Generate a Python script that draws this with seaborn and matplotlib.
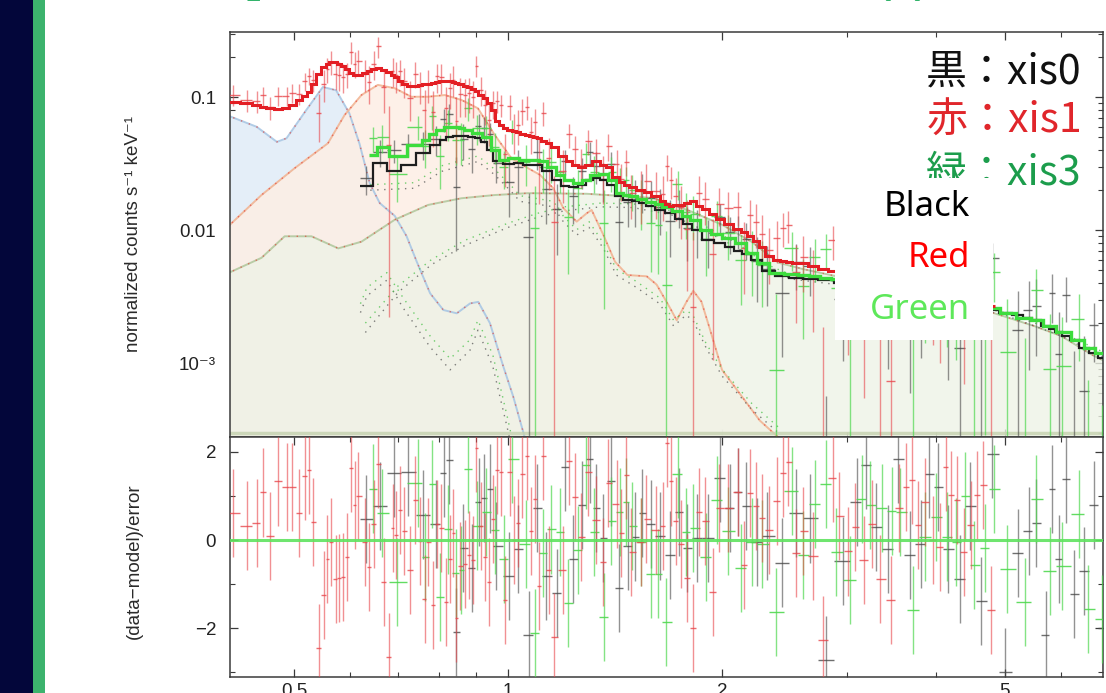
import numpy as np
import matplotlib
matplotlib.use("Agg")
import matplotlib.pyplot as plt
from matplotlib.patches import Rectangle
from matplotlib.ticker import LogLocator, FixedLocator, NullFormatter
import seaborn as sns

# ---------------- spectral bins: XIS1 (red) ----------------
e_xis1 = np.array([
    0.410, 0.429, 0.443, 0.452, 0.462, 0.475, 0.488, 0.497, 0.508, 0.518,
    0.525, 0.532, 0.542, 0.551, 0.557, 0.564, 0.572, 0.579, 0.586, 0.594,
    0.602, 0.609, 0.615, 0.630, 0.638, 0.647, 0.657, 0.669, 0.680, 0.689,
    0.695, 0.704, 0.713, 0.727, 0.741, 0.751, 0.763, 0.772, 0.784, 0.795,
    0.806, 0.819, 0.828, 0.838, 0.846, 0.857, 0.869, 0.881, 0.893, 0.902,
    0.915, 0.927, 0.940, 0.953, 0.966, 0.977, 0.989, 1.005, 1.020, 1.033,
    1.047, 1.063, 1.078, 1.090, 1.105, 1.120, 1.141, 1.160, 1.195, 1.218,
    1.241, 1.268, 1.296, 1.331, 1.361, 1.383, 1.421, 1.444, 1.467, 1.491,
    1.540, 1.565, 1.617, 1.652, 1.672, 1.694, 1.722, 1.750, 1.784, 1.819,
    1.858, 1.893, 1.941, 1.983, 2.041, 2.109, 2.148, 2.190, 2.233, 2.274,
    2.326, 2.388, 2.435, 2.479, 2.542, 2.603, 2.688, 2.777, 2.862, 2.924,
    3.011, 3.076, 3.167, 3.251, 3.337, 3.458, 3.552, 3.629, 3.697, 3.769,
    3.859, 3.956, 4.051, 4.130, 4.199, 4.277, 4.379, 4.475, 4.562, 4.661,
    4.778])
model_xis1 = np.array([
    0.093, 0.090, 0.087, 0.085, 0.083, 0.081, 0.083, 0.087, 0.095, 0.102,
    0.110, 0.125, 0.150, 0.168, 0.178, 0.186, 0.183, 0.178, 0.172, 0.162,
    0.152, 0.147, 0.147, 0.152, 0.157, 0.162, 0.165, 0.160, 0.154, 0.148,
    0.142, 0.132, 0.125, 0.121, 0.121, 0.123, 0.125, 0.127, 0.129, 0.131,
    0.132, 0.133, 0.132, 0.130, 0.128, 0.125, 0.122, 0.119, 0.115, 0.111,
    0.105, 0.098, 0.091, 0.080, 0.066, 0.062, 0.059, 0.057, 0.056, 0.055,
    0.053, 0.052, 0.051, 0.050, 0.049, 0.047, 0.045, 0.042, 0.036, 0.033,
    0.031, 0.030, 0.031, 0.033, 0.031, 0.030, 0.025, 0.023, 0.022, 0.021,
    0.020, 0.0195, 0.018, 0.0165, 0.0157, 0.0152, 0.0154, 0.0156, 0.0160, 0.0166,
    0.0152, 0.0145, 0.0132, 0.0121, 0.0112, 0.0103, 0.0097, 0.0090, 0.0083, 0.0075,
    0.0064, 0.0060, 0.0059, 0.0058, 0.0057, 0.0057, 0.0054, 0.0051, 0.0049, 0.0048,
    0.0047, 0.0046, 0.0044, 0.0043, 0.0042, 0.0040, 0.0039, 0.0038, 0.0037, 0.0036,
    0.0035, 0.0034, 0.0033, 0.0032, 0.0031, 0.0031, 0.0030, 0.0029, 0.0028, 0.0028,
    0.0027])
resid_xis1 = np.array([
    0.61, 0.33, 0.38, 1.08, 0.10, 1.33, 1.21, 1.21, 0.61, 1.45,
    1.59, 0.42, -2.46, -1.25, -0.43, -0.04, -0.89, -0.86, -0.84, -0.38,
    1.64, 0.80, 1.00, -0.05, -0.61, 0.36, 1.73, -0.95, -2.65, 0.27,
    0.12, 0.69, 0.20, -0.67, 0.91, -0.03, -1.33, -0.04, -1.48, 0.36,
    0.27, -1.40, -0.43, 0.17, -1.78, -0.58, -0.55, -0.35, -0.45, 2.08,
    0.31, -0.38, -0.95, 0.48, 1.59, 1.55, -1.37, 1.55, 0.00, 0.38,
    1.50, 1.92, 0.20, 0.93, -1.05, 1.92, -0.68, -2.20, -0.68, 1.80,
    0.97, 0.07, 1.55, 0.46, -0.50, 1.30, 0.81, 0.15, 1.47, -0.27,
    -0.05, 0.47, 0.23, 0.32, 2.20, 1.33, 0.43, -0.08, -0.86, -2.00,
    0.63, 0.43, -1.19, 0.72, 0.72, 1.10, -0.57, 1.06, 0.78, 0.50,
    0.23, 0.89, 1.53, 1.78, -0.30, 0.20, -0.36, -2.27, 1.42, 0.55,
    -0.26, 0.30, -0.46, 0.36, -0.89, -1.36, 0.72, 1.21, 1.36, 0.35,
    0.86, 0.00, -0.16, 1.65, 1.03, 0.92, -0.28, 0.35, 1.03, 1.26,
    -1.59])

# ---------------- spectral bins: XIS0 (black) ----------------
e_xis0 = np.array([
    0.632, 0.660, 0.691, 0.723, 0.760, 0.793, 0.812, 0.826, 0.846, 0.864,
    0.891, 0.909, 0.925, 0.944, 0.963, 1.003, 1.033, 1.070, 1.100, 1.132,
    1.172, 1.201, 1.234, 1.272, 1.303, 1.331, 1.360, 1.394, 1.431, 1.475,
    1.510, 1.545, 1.587, 1.634, 1.690, 1.742, 1.784, 1.842, 1.912, 1.987,
    2.053, 2.109, 2.163, 2.237, 2.316, 2.427, 2.542, 2.659, 2.798, 2.960,
    3.094, 3.187, 3.291, 3.425, 3.539, 3.677, 3.806, 3.915, 4.021, 4.160,
    4.320, 4.470, 4.630, 4.800, 5.000, 5.220, 5.400, 5.530, 5.710, 5.830,
    5.950, 6.090, 6.260, 6.470, 6.670, 6.860])
model_xis0 = np.array([
    0.0217, 0.032, 0.028, 0.031, 0.038, 0.044, 0.048, 0.050, 0.051, 0.051,
    0.050, 0.049, 0.046, 0.040, 0.033, 0.0315, 0.032, 0.031, 0.031, 0.028,
    0.024, 0.0215, 0.021, 0.022, 0.024, 0.0245, 0.024, 0.022, 0.018, 0.017,
    0.0167, 0.016, 0.0153, 0.0143, 0.0134, 0.0122, 0.0112, 0.0100, 0.0085, 0.0080,
    0.0075, 0.0070, 0.0066, 0.0060, 0.0049, 0.0045, 0.0044, 0.0043, 0.0042, 0.0040,
    0.0039, 0.0038, 0.0037, 0.0036, 0.0035, 0.0034, 0.0033, 0.0032, 0.0031, 0.0030,
    0.0029, 0.0028, 0.0026, 0.0025, 0.0024, 0.0023, 0.0022, 0.0021, 0.0019, 0.0018,
    0.0017, 0.0016, 0.0015, 0.0013, 0.0012, 0.0011])
resid_xis0 = np.array([
    0.47, 0.78, 1.53, 1.55, 0.58, 0.36, 1.53, 1.82, -2.08, -0.19,
    -0.63, 0.87, 0.96, 1.17, -0.13, -0.82, -0.21, -2.16, 0.73, -0.82,
    -1.21, 1.65, -0.42, 0.80, 1.83, 0.73, 0.04, 1.33, -1.08, -0.13,
    0.08, 0.62, 0.36, 0.10, -0.33, 0.63, -0.19, 0.04, 0.04, 1.40,
    0.72, 1.10, 0.78, -0.04, 0.10, -0.51, 0.61, 0.49, -2.73, -0.48,
    0.87, 1.70, 0.30, -0.21, 1.84, -0.33, -0.08, 1.49, 1.21, -0.21,
    -0.89, 0.78, -1.39, 1.95, -3.00, -0.30, 0.20, 0.38, -2.16, 1.16,
    -0.42, 1.38, -1.23, -0.70, 0.80, -2.00])

# ---------------- spectral bins: XIS3 (green) ----------------
e_xis3 = np.array([
    0.646, 0.664, 0.697, 0.747, 0.765, 0.782, 0.801, 0.822, 0.844, 0.860,
    0.877, 0.905, 0.932, 0.958, 0.987, 1.013, 1.059, 1.090, 1.120, 1.151,
    1.182, 1.214, 1.254, 1.289, 1.321, 1.364, 1.397, 1.436, 1.467, 1.494,
    1.540, 1.587, 1.628, 1.670, 1.736, 1.780, 1.822, 1.899, 1.965, 2.041,
    2.127, 2.202, 2.274, 2.382, 2.507, 2.603, 2.702, 2.800, 2.897, 3.030,
    3.144, 3.230, 3.354, 3.466, 3.560, 3.716, 3.860, 4.000, 4.147, 4.267,
    4.400, 4.530, 4.690, 4.820, 5.040, 5.340, 5.530, 5.780, 6.020, 6.360,
    6.550, 6.840])
model_xis3 = np.array([
    0.037, 0.0426, 0.036, 0.044, 0.048, 0.053, 0.057, 0.060, 0.060, 0.0585,
    0.057, 0.054, 0.050, 0.040, 0.034, 0.035, 0.034, 0.034, 0.033, 0.030,
    0.026, 0.024, 0.0225, 0.024, 0.026, 0.0265, 0.024, 0.019, 0.0185, 0.018,
    0.0172, 0.0163, 0.0157, 0.0150, 0.0140, 0.0128, 0.0120, 0.0101, 0.0094, 0.0088,
    0.0080, 0.0067, 0.0057, 0.0048, 0.0047, 0.0046, 0.0045, 0.0044, 0.0043, 0.0041,
    0.0040, 0.0039, 0.0038, 0.0037, 0.0036, 0.0034, 0.0033, 0.0032, 0.0031, 0.0030,
    0.0029, 0.0028, 0.0027, 0.0026, 0.0024, 0.0022, 0.0021, 0.0019, 0.0017, 0.0015,
    0.0013, 0.0012])
resid_xis3 = np.array([
    1.17, 0.61, -0.96, 1.30, -0.38, 1.27, -1.29, 0.24, -0.74, -0.68,
    1.61, 0.33, 0.64, 0.23, -0.43, 1.83, -0.10, -2.11, -0.29, 0.24,
    0.19, -1.44, -0.23, 1.70, 0.19, -1.74, 0.43, 0.64, 0.87, 0.32,
    -0.04, -0.76, -0.76, -1.86, 1.49, 0.19, 0.27, -0.38, 0.92, 0.20,
    -0.64, -0.04, -0.08, -1.63, 1.11, -0.34, 0.81, 1.27, -0.28, -0.91,
    0.93, 0.80, 0.72, 0.66, 0.63, -1.59, 0.08, 0.53, 0.08, -0.05,
    1.01, -0.57, -0.19, 1.15, -0.66, -1.40, 0.93, -0.70, -0.59, 0.59,
    -1.57, -1.80])

# relative 1-sigma errors by energy band
err_breaks_bi = [0.6, 1.0, 1.5, 2.2, 3.0]
err_levels_bi = [0.20, 0.27, 0.33, 0.42, 0.50, 0.60]
err_breaks_fi = [1.0, 1.5, 2.2, 3.0, 4.5]
err_levels_fi = [0.28, 0.33, 0.40, 0.50, 0.62, 0.75]

# ---------------- XIS1 model components (filled) ----------------
soft_e = [0.400, 0.406, 0.443, 0.473, 0.488, 0.520, 0.549, 0.573, 0.598, 0.618,
          0.639, 0.660, 0.693, 0.720, 0.744, 0.777, 0.811, 0.847, 0.884, 0.908,
          0.943, 0.985, 1.017, 1.051, 1.080]
soft_v = [0.073, 0.072, 0.060, 0.0462, 0.0492, 0.080, 0.1196, 0.113, 0.076, 0.0449,
          0.0225, 0.0160, 0.0128, 0.0090, 0.0058, 0.00335, 0.00251, 0.00237, 0.00281, 0.00289,
          0.0020, 0.00094, 0.00056, 0.00030, 0.00018]
mid_e = [0.400, 0.404, 0.450, 0.501, 0.558, 0.589, 0.622, 0.656, 0.693, 0.731,
         0.772, 0.815, 0.860, 0.907, 0.958, 1.011, 1.067, 1.109, 1.158, 1.196,
         1.249, 1.290, 1.311, 1.362, 1.414, 1.472, 1.567, 1.618, 1.690, 1.727,
         1.783, 1.822, 1.871, 1.923, 2.000, 2.260, 2.450]
mid_v = [0.0105, 0.0107, 0.0184, 0.0293, 0.0451, 0.0736, 0.104, 0.124, 0.117, 0.101,
         0.101, 0.104, 0.0955, 0.0827, 0.052, 0.0348, 0.0293, 0.0261, 0.0207, 0.0147,
         0.0116, 0.0134, 0.0142, 0.0092, 0.0058, 0.0046, 0.0045, 0.0039, 0.0026, 0.0021,
         0.0029, 0.0035, 0.0029, 0.0018, 0.00089, 0.00037, 0.00025]
hot_e = [0.400, 0.404, 0.450, 0.485, 0.529, 0.577, 0.622, 0.693, 0.772, 0.860,
         0.958, 1.067, 1.290, 1.600, 1.800, 2.000, 2.200, 2.400, 2.600, 2.900,
         3.500, 4.000, 4.800, 5.500, 6.000, 6.640, 7.000]
hot_v = [0.0047, 0.00476, 0.0062, 0.0090, 0.0090, 0.0073, 0.0082, 0.0120, 0.0155, 0.0174,
         0.0184, 0.0190, 0.0188, 0.0175, 0.0140, 0.0110, 0.0082, 0.0057, 0.0051, 0.0045,
         0.0037, 0.0031, 0.0024, 0.0019, 0.0016, 0.00115, 0.0010]
floor_e = [0.400, 7.000]
floor_v = [2.98e-4, 2.98e-4]

# ---------------- XIS0 / XIS3 model components (dotted) ----------------
fi_soft_e = [0.620, 0.633, 0.675, 0.712, 0.777, 0.829, 0.884, 0.907, 0.952, 0.997, 1.030]
fi_soft_xis0 = [0.0024, 0.0032, 0.0042, 0.0026, 0.00132, 0.00089, 0.00125, 0.00177, 0.00094, 0.00033, 0.00015]
fi_soft_xis3 = [0.0028, 0.0037, 0.0048, 0.0031, 0.0016, 0.00108, 0.0015, 0.0021, 0.00115, 0.0004, 0.00018]
fi_mid_e = [0.640, 0.739, 0.806, 0.907, 0.958, 1.011, 1.039, 1.158, 1.196, 1.249, 1.300,
            1.362, 1.420, 1.517, 1.634, 1.710, 1.780, 1.820, 1.900, 2.000, 2.200, 2.400]
fi_mid_xis0 = [0.0200, 0.0207, 0.0277, 0.0329, 0.0261, 0.0195, 0.0165, 0.0150, 0.0116, 0.0092, 0.0105,
               0.0073, 0.0046, 0.0037, 0.0028, 0.0019, 0.0023, 0.0021, 0.0013, 0.0008, 0.00045, 0.0003]
fi_mid_xis3 = [0.0220, 0.0228, 0.0305, 0.0362, 0.0287, 0.0215, 0.0182, 0.0165, 0.0128, 0.0101, 0.0116,
               0.0080, 0.0051, 0.0041, 0.0031, 0.0021, 0.0025, 0.0023, 0.0014, 0.0009, 0.0005, 0.00033]
fi_hot_e = [0.63, 0.70, 0.78, 0.87, 1.00, 1.10, 1.20, 1.35, 1.50, 1.70,
            1.90, 2.10, 2.30, 2.50, 2.90, 3.50, 4.20, 5.00, 6.00, 6.90]
fi_hot_xis0 = [0.0017, 0.0034, 0.0055, 0.0077, 0.0105, 0.0125, 0.0140, 0.0150, 0.0148, 0.0130,
               0.0098, 0.0074, 0.0052, 0.0043, 0.0039, 0.0034, 0.0028, 0.0023, 0.0016, 0.0011]
fi_hot_xis3 = [0.0020, 0.0038, 0.0060, 0.0084, 0.0113, 0.0134, 0.0150, 0.0160, 0.0158, 0.0140,
               0.0106, 0.0080, 0.0056, 0.0046, 0.0041, 0.0035, 0.0029, 0.0024, 0.0017, 0.0012]

# ---------------- text ----------------
legend_rows = ["黒：xis0", "赤：xis1", "緑：xis3"]
legend_row_colors = ["#111111", "#e0262b", "#1c9d4c"]
legend_row_y = [72, 121, 173]
color_words = ["Black", "Red", "Green"]
color_word_colors = ["#000000", "#ff0000", "#5ee85a"]
color_word_y = [207, 258, 310]
x_ticks = [0.5, 1, 2, 5]
x_ticklabels = ["0.5", "1", "2", "5"]
y_ticks = [1e-3, 1e-2, 1e-1]
y_ticklabels = ["10⁻³", "0.01", "0.1"]
r_ticks = [-2, 0, 2]
r_ticklabels = ["−2", "0", "2"]

# ---------------- style ----------------
sns.set_theme(style="ticks")
plt.rcParams["font.family"] = ["Liberation Sans", "DejaVu Sans"]
plt.rcParams["axes.linewidth"] = 1.1
plt.rcParams["axes.edgecolor"] = "#3a3a3a"

fig = plt.figure(figsize=(11.06, 6.93), dpi=100)
fig.patch.set_facecolor("white")

ax = fig.add_axes([0.2080, 0.3694, 0.7893, 0.5844])
axr = fig.add_axes([0.2080, 0.0231, 0.7893, 0.3463], sharex=ax)
for a in (ax, axr):
    a.set_facecolor("white")

ax.set_xscale("log")
ax.set_yscale("log")
ax.set_xlim(0.4064, 6.87)
ax.set_ylim(2.78e-4, 0.31)
axr.set_ylim(-3.11, 2.34)


def bin_edges(e):
    mids = np.sqrt(e[:-1] * e[1:])
    return np.concatenate([[e[0] ** 2 / mids[0]], mids, [e[-1] ** 2 / mids[-1]]])


# filled components of the XIS1 model: soft first, each later one laid over it
components = [
    (soft_e, soft_v, "#e4eef8", "#a9c7e4", 1.0),
    (mid_e, mid_v, "#fdeee5", "#f2b594", 0.85),
    (hot_e, hot_v, "#eef3e6", "#b3c99f", 0.80),
]
for ce, cv, fill, edge, alpha in components:
    ax.fill_between(ce, cv, 1e-6, color=fill, alpha=alpha, lw=0, zorder=1)
for ce, cv, fill, edge, alpha in components:
    sns.lineplot(x=ce, y=cv, ax=ax, color=edge, lw=1.4, alpha=0.9, sort=False,
                 estimator=None, zorder=2, legend=False)
    ax.plot(ce, cv, color="#e2473f", lw=1.0, ls=(0, (1, 5)), alpha=0.7, zorder=3)

sns.lineplot(x=floor_e, y=floor_v, ax=ax, color="#c4d1ae", lw=2.5, alpha=0.8,
             estimator=None, zorder=2, legend=False)

# dotted components of the XIS0 / XIS3 models
for ce, cv, col in [(fi_soft_e, fi_soft_xis0, "#555555"), (fi_soft_e, fi_soft_xis3, "#44c044"),
                    (fi_mid_e, fi_mid_xis0, "#555555"), (fi_mid_e, fi_mid_xis3, "#44c044"),
                    (fi_hot_e, fi_hot_xis0, "#555555"), (fi_hot_e, fi_hot_xis3, "#44c044")]:
    ax.plot(ce, cv, color=col, lw=1.0, ls=(0, (1, 4)), alpha=0.75, zorder=3)


def draw_spectrum(e, model, resid, breaks, levels, bar_color, line_color, line_w, bar_alpha, z):
    edges = bin_edges(e)
    relerr = np.asarray(levels)[np.digitize(e, breaks)]
    sigma = relerr * model
    data = model + resid * sigma
    lo, hi = data - sigma, data + sigma
    ok = hi > 0
    ax.vlines(e[ok], np.clip(lo[ok], 1e-6, None), hi[ok], color=bar_color,
              lw=1.0, alpha=bar_alpha, zorder=z)
    pos = data > 0
    ax.hlines(data[pos], edges[:-1][pos], edges[1:][pos], color=bar_color,
              lw=1.0, alpha=min(1, bar_alpha + 0.2), zorder=z)
    ax.stairs(model, edges, baseline=None, color=line_color, lw=line_w, zorder=z + 3)
    axr.vlines(e, resid - 1, resid + 1, color=bar_color, lw=1.0, alpha=bar_alpha, zorder=z)
    axr.hlines(resid, edges[:-1], edges[1:], color=bar_color, lw=1.0,
               alpha=min(1, bar_alpha + 0.2), zorder=z)


draw_spectrum(e_xis0, model_xis0, resid_xis0, err_breaks_fi, err_levels_fi,
              "#4a4a4a", "#1e1e1e", 1.6, 0.6, 4)
draw_spectrum(e_xis3, model_xis3, resid_xis3, err_breaks_fi, err_levels_fi,
              "#50d850", "#3ddc3d", 2.4, 0.7, 4)
draw_spectrum(e_xis1, model_xis1, resid_xis1, err_breaks_bi, err_levels_bi,
              "#e8474c", "#e31e24", 2.2, 0.6, 5)

axr.axhline(0, color="#5fe35f", lw=2.2, alpha=0.9, zorder=9)

# ---------------- axes decoration ----------------
tick_kw = dict(direction="in", top=True, right=True, colors="#3a3a3a",
               labelcolor="#222222", labelsize=13.5)
for a in (ax, axr):
    a.tick_params(which="major", length=6, width=0.9, **tick_kw)
    a.tick_params(which="minor", length=3.5, width=0.8, **tick_kw)
    a.xaxis.set_major_locator(FixedLocator(x_ticks))
    a.xaxis.set_minor_locator(FixedLocator([0.6, 0.7, 0.8, 0.9, 3, 4, 6]))
    a.xaxis.set_minor_formatter(NullFormatter())

ax.tick_params(axis="x", which="both", labelbottom=False)
ax.set_yticks(y_ticks)
ax.set_yticklabels(y_ticklabels)
ax.yaxis.set_minor_locator(LogLocator(base=10, subs=np.arange(2, 10)))
ax.yaxis.set_minor_formatter(NullFormatter())
ax.tick_params(axis="y", which="major", pad=10)

axr.set_xticks(x_ticks)
axr.set_xticklabels(x_ticklabels)
axr.tick_params(axis="x", which="major", pad=4)
axr.set_yticks(r_ticks)
axr.set_yticklabels(r_ticklabels)
axr.set_yticks([-3, -1, 1], minor=True)
axr.tick_params(axis="y", which="major", pad=10)

fig.text(133 / 1106, 1 - 234 / 693, "normalized counts s⁻¹ keV⁻¹", rotation=90,
         ha="center", va="center", fontsize=13.5, color="#2a2a2a")
fig.text(134 / 1106, 1 - 561 / 693, "(data−model)/error", rotation=90,
         ha="center", va="center", fontsize=13.5, color="#2a2a2a")

# ---------------- slide frame ----------------
fig.add_artist(Rectangle((0, 0), 33 / 1106, 1, transform=fig.transFigure,
                         facecolor="#03063a", edgecolor="none", zorder=1))
fig.add_artist(Rectangle((33 / 1106, 0), 12 / 1106, 1, transform=fig.transFigure,
                         facecolor="#3cb36d", edgecolor="none", zorder=1))
for xp, s in [(252, "["), (884, "("), (921, ")")]:
    fig.text(xp / 1106, 1 - 5 / 693, s, color="#33b36b", fontsize=40,
             ha="center", va="bottom", family=["Noto Sans", "DejaVu Sans"], zorder=2)

# detector legend
for txt, col, yp in zip(legend_rows, legend_row_colors, legend_row_y):
    fig.text(1082 / 1106, 1 - yp / 693, txt, color=col, fontsize=29.5,
             ha="right", va="center", family=["Noto Sans CJK JP", "DejaVu Sans"], zorder=2)

fig.add_artist(Rectangle((835 / 1106, 1 - 340 / 693), 158 / 1106, 162 / 693,
                         transform=fig.transFigure, facecolor="white",
                         edgecolor="none", zorder=2.5))
for txt, col, yp in zip(color_words, color_word_colors, color_word_y):
    fig.text(970 / 1106, 1 - yp / 693, txt, color=col, fontsize=25,
             ha="right", va="center", family=["Noto Sans", "DejaVu Sans"], zorder=3)

fig.savefig("out.png", dpi=100)
